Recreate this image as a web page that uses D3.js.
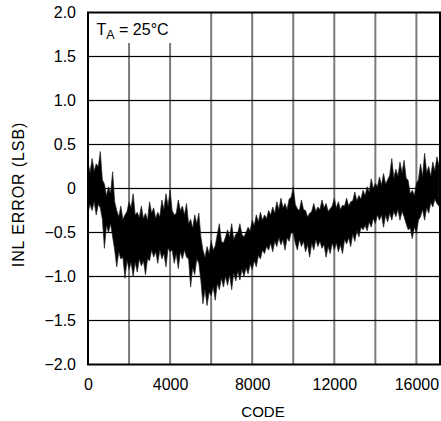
<!DOCTYPE html>
<html>
<head>
<meta charset="utf-8">
<script src="https://cdn.jsdelivr.net/npm/d3@7"></script>
<style>
  body { margin: 0; background: #fff; }
  text { font-family: "Liberation Sans", Arial, sans-serif; fill: #000; }
</style>
</head>
<body>
<div id="chart-area"></div>
<script>
// values: upper / lower edge of the noisy INL trace per code
var codes = [0, 100, 200, 300, 400, 500, 600, 700, 800, 900,
             1000, 1100, 1200, 1300, 1400, 1500, 1600, 1700, 1800, 1900,
             2000, 2100, 2200, 2300, 2400, 2500, 2600, 2700, 2800, 2900,
             3000, 3100, 3200, 3300, 3400, 3500, 3600, 3700, 3800, 3900,
             4000, 4100, 4200, 4300, 4400, 4500, 4600, 4700, 4800, 4900,
             5000, 5100, 5200, 5300, 5400, 5500, 5600, 5700, 5800, 5900,
             6000, 6100, 6200, 6300, 6400, 6500, 6600, 6700, 6800, 6900,
             7000, 7100, 7200, 7300, 7400, 7500, 7600, 7700, 7800, 7900,
             8000, 8100, 8200, 8300, 8400, 8500, 8600, 8700, 8800, 8900,
             9000, 9100, 9200, 9300, 9400, 9500, 9600, 9700, 9800, 9900,
             10000, 10100, 10200, 10300, 10400, 10500, 10600, 10700, 10800, 10900,
             11000, 11100, 11200, 11300, 11400, 11500, 11600, 11700, 11800, 11900,
             12000, 12100, 12200, 12300, 12400, 12500, 12600, 12700, 12800, 12900,
             13000, 13100, 13200, 13300, 13400, 13500, 13600, 13700, 13800, 13900,
             14000, 14100, 14200, 14300, 14400, 14500, 14600, 14700, 14800, 14900,
             15000, 15100, 15200, 15300, 15400, 15500, 15600, 15700, 15800, 15900,
             16000, 16100, 16200, 16300, 16400, 16500, 16600, 16700, 16800, 16900,
             17000, 17100];
var inlHigh = [0.30, 0.18, 0.34, 0.20, 0.28, 0.25, 0.42, 0.10, 0.05, -0.08,
               0.02, -0.05, 0.19, -0.15, -0.25, -0.32, -0.20, -0.35, -0.30, -0.26,
               -0.15, -0.22, -0.06, -0.30, -0.27, -0.33, -0.20, -0.34, -0.28, -0.36,
               -0.15, -0.28, -0.22, -0.34, -0.27, -0.32, -0.13, -0.24, -0.06, -0.20,
               -0.02, -0.25, -0.30, -0.28, -0.13, -0.25, -0.20, -0.30, -0.17, -0.40,
               -0.35, -0.45, -0.30, -0.40, -0.28, -0.55, -0.70, -0.78, -0.66, -0.74,
               -0.59, -0.70, -0.65, -0.52, -0.40, -0.60, -0.62, -0.55, -0.47, -0.55,
               -0.40, -0.58, -0.52, -0.50, -0.40, -0.52, -0.55, -0.50, -0.44, -0.48,
               -0.36, -0.42, -0.30, -0.38, -0.27, -0.36, -0.30, -0.34, -0.25, -0.30,
               -0.21, -0.28, -0.15, -0.24, -0.11, -0.22, -0.17, -0.24, -0.12, -0.10,
               0.02, -0.18, -0.23, -0.25, -0.13, -0.24, -0.25, -0.32, -0.28, -0.26,
               -0.17, -0.26, -0.21, -0.24, -0.13, -0.22, -0.17, -0.26, -0.23, -0.20,
               -0.11, -0.22, -0.15, -0.24, -0.19, -0.20, -0.11, -0.20, -0.15, -0.14,
               -0.04, -0.14, -0.08, -0.12, -0.02, -0.08, 0.02, -0.04, 0.11, 0.00,
               0.06, 0.02, 0.13, 0.04, 0.17, 0.05, 0.10, 0.15, 0.34, 0.12,
               0.22, 0.14, 0.30, 0.18, 0.32, 0.12, 0.09, -0.06, -0.02, -0.08,
               0.06, 0.10, 0.28, 0.14, 0.40, 0.18, 0.25, 0.14, 0.30, 0.20,
               0.36, 0.26];
var inlLow = [-0.28, -0.18, -0.25, -0.15, -0.30, -0.18, -0.22, -0.35, -0.68, -0.42,
              -0.50, -0.40, -0.55, -0.70, -0.89, -0.72, -0.80, -0.78, -1.02, -0.82,
              -0.92, -0.84, -1.00, -0.84, -0.95, -0.80, -0.88, -0.82, -0.98, -0.80,
              -0.82, -0.70, -0.78, -0.72, -0.85, -0.70, -0.80, -0.74, -0.89, -0.68,
              -0.72, -0.70, -0.85, -0.74, -0.91, -0.72, -0.80, -0.70, -0.78, -0.80,
              -1.12, -0.90, -0.98, -0.80, -0.85, -1.05, -1.31, -1.15, -1.33, -1.18,
              -1.22, -1.12, -1.27, -1.08, -1.15, -1.02, -1.12, -1.00, -1.10, -0.98,
              -1.15, -0.96, -1.05, -0.94, -1.04, -0.92, -1.00, -0.90, -0.97, -0.86,
              -0.92, -0.82, -0.89, -0.76, -0.80, -0.70, -0.74, -0.66, -0.70, -0.62,
              -0.72, -0.60, -0.66, -0.56, -0.64, -0.58, -0.70, -0.56, -0.60, -0.50,
              -0.51, -0.62, -0.70, -0.58, -0.66, -0.60, -0.72, -0.64, -0.78, -0.62,
              -0.70, -0.58, -0.66, -0.60, -0.68, -0.64, -0.78, -0.66, -0.74, -0.62,
              -0.70, -0.62, -0.72, -0.64, -0.74, -0.58, -0.63, -0.56, -0.66, -0.52,
              -0.60, -0.48, -0.55, -0.44, -0.47, -0.42, -0.48, -0.38, -0.44, -0.34,
              -0.40, -0.30, -0.36, -0.30, -0.44, -0.30, -0.38, -0.28, -0.36, -0.26,
              -0.32, -0.24, -0.36, -0.26, -0.32, -0.40, -0.47, -0.45, -0.57, -0.44,
              -0.51, -0.36, -0.32, -0.24, -0.36, -0.22, -0.28, -0.16, -0.21, -0.12,
              -0.17, -0.20];

var xTicks = [0, 4000, 8000, 12000, 16000];
var xGrid = [2000, 4000, 6000, 8000, 10000, 12000, 14000, 16000];
var yTicks = [-2, -1.5, -1, -0.5, 0, 0.5, 1, 1.5, 2];
var yTickLabels = ["\u22122.0", "\u22121.5", "\u22121.0", "\u22120.5", "0", "0.5", "1.0", "1.5", "2.0"];
var yGrid = [-1.5, -1, -0.5, 0, 0.5, 1, 1.5];

var margin = { left: 88, right: 1, top: 12.5, bottom: 56.5 };
var width = 441 - margin.left - margin.right;
var height = 421 - margin.top - margin.bottom;

var svg = d3.select("#chart-area")
        .append("svg")
                .attr("width", 441)
                .attr("height", 421)
                .append("g")
                        .attr("transform", "translate(" + margin.left + "," + margin.top + ")");

var x = d3.scaleLinear()
        .domain([0, 17150])
        .range([0, width]);

var y = d3.scaleLinear()
        .domain([-2, 2])
        .range([height, 0]);

// grid
svg.selectAll("rect.vgrid")
        .data(xGrid)
        .enter()
        .append("rect")
        .attr("class", "vgrid")
        .attr("x", d => x(d) - 1)
        .attr("y", 0)
        .attr("width", 2)
        .attr("height", height)
        .attr("fill", "#7a7a7a");

svg.selectAll("rect.hgrid")
        .data(yGrid)
        .enter()
        .append("rect")
        .attr("class", "hgrid")
        .attr("x", 0)
        .attr("y", d => y(d) - 0.6)
        .attr("width", width)
        .attr("height", 1.2)
        .attr("fill", "#000");

// white box behind the temperature note
svg.append("rect")
        .attr("x", 0)
        .attr("y", 0)
        .attr("width", 88)
        .attr("height", 30.5)
        .attr("fill", "#fff");

var note = svg.append("text")
        .attr("x", 8.5)
        .attr("y", 22)
        .attr("font-size", "16px");
note.append("tspan").text("T");
note.append("tspan").attr("font-size", "12.5px").attr("dy", 4).text("A");
note.append("tspan").attr("dy", -4).text(" = 25\u00B0C");

// trace
var band = d3.area()
        .x((d, i) => x(codes[i]))
        .y0((d, i) => y(inlLow[i]))
        .y1((d, i) => y(inlHigh[i]));

svg.append("path")
        .datum(codes)
        .attr("d", band)
        .attr("fill", "#000")
        .attr("stroke", "#222")
        .attr("stroke-width", 0.7);

// frame
svg.append("rect")
        .attr("x", 0)
        .attr("y", 0)
        .attr("width", width)
        .attr("height", height)
        .attr("fill", "none")
        .attr("stroke", "#000")
        .attr("stroke-width", 2);

// axes
var xAxisCall = d3.axisBottom(x)
        .tickValues(xTicks)
        .tickSize(0)
        .tickPadding(14)
        .tickFormat(d3.format("d"));
svg.append("g")
        .attr("class", "x-axis")
        .attr("transform", "translate(0," + height + ")")
        .call(xAxisCall)
        .call(g => g.select(".domain").remove())
        .selectAll("text")
                .attr("font-size", "16px")
                .attr("font-family", "Liberation Sans, Arial, sans-serif");

var yAxisCall = d3.axisLeft(y)
        .tickValues(yTicks)
        .tickSize(0)
        .tickPadding(12)
        .tickFormat((d, i) => yTickLabels[i]);
svg.append("g")
        .attr("class", "y-axis")
        .call(yAxisCall)
        .call(g => g.select(".domain").remove())
        .selectAll("text")
                .attr("font-size", "16px")
                .attr("font-family", "Liberation Sans, Arial, sans-serif");

svg.append("text")
        .attr("class", "x-axis-label")
        .attr("x", width / 2 - 1)
        .attr("y", height + 52)
        .attr("font-size", "15px")
        .attr("text-anchor", "middle")
        .text("CODE");

svg.append("text")
        .attr("class", "y-axis-label")
        .attr("x", -(height / 2) - 6)
        .attr("y", -64)
        .attr("font-size", "16px")
        .attr("letter-spacing", "0.9px")
        .attr("text-anchor", "middle")
        .attr("transform", "rotate(-90)")
        .text("INL ERROR (LSB)");
</script>
</body>
</html>
